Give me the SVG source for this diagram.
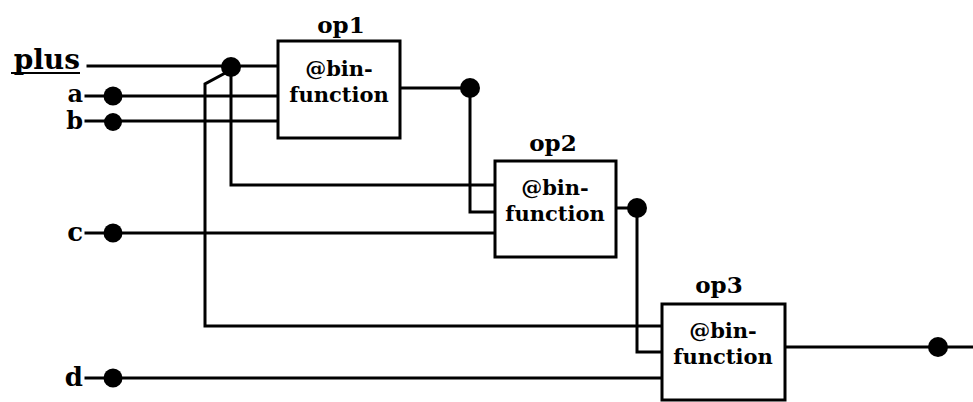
<svg xmlns="http://www.w3.org/2000/svg" width="973" height="402" viewBox="0 0 973 402">
<style>
.w{fill:none;stroke:#000;stroke-width:3;stroke-linejoin:miter;stroke-linecap:square}
.box{fill:#fff;stroke:#000;stroke-width:3}
.dot{fill:#000}
.t{font-family:"DejaVu Serif","Liberation Serif",serif;font-weight:bold;fill:#000}
.in{font-size:21px;text-anchor:middle}
.lb{font-size:23px;text-anchor:middle}
.var{font-size:26px;text-anchor:end}
.sm{font-size:24px}
</style>
<rect width="973" height="402" fill="#fff"/>
<g id="connectors">
<path class="w" d="M88 66 H278"/>
<path class="w" d="M86 96 H278"/>
<path class="w" d="M86 121 H278"/>
<path class="w" d="M86 233 H495"/>
<path class="w" d="M86 378 H662"/>
<path class="w" d="M231 67 V185 H495"/>
<path class="w" d="M229 71 L205 84 V326 H662"/>
<path class="w" d="M400 88 H470 V212 H495"/>
<path class="w" d="M616 208 H637 V352 H662"/>
<path class="w" d="M785 347 H973"/>
</g>
<g id="inputs">
<text class="t var" x="80" y="69" style="font-size:28px">plus</text>
<line x1="11" y1="73" x2="80" y2="73" stroke="#000" stroke-width="2"/>
<text class="t var sm" x="83" y="102">a</text>
<text class="t var sm" x="83" y="129">b</text>
<text class="t var" x="83" y="241">c</text>
<text class="t var" x="83" y="386">d</text>
<circle class="dot" cx="113" cy="96" r="9.5"/>
<circle class="dot" cx="113" cy="122" r="9"/>
<circle class="dot" cx="113" cy="233" r="9.5"/>
<circle class="dot" cx="113" cy="378" r="9.5"/>
<circle class="dot" cx="231" cy="67" r="10"/>
</g>
<g id="op1">
<text class="t lb" x="341" y="33">op1</text>
<rect class="box" x="278" y="41" width="122" height="97"/>
<text class="t in" x="339" y="76">@bin-</text>
<text class="t in" x="339" y="102">function</text>
<circle class="dot" cx="470" cy="88" r="10"/>
</g>
<g id="op2">
<text class="t lb" x="553" y="151">op2</text>
<rect class="box" x="495" y="161" width="121" height="96"/>
<text class="t in" x="555" y="195">@bin-</text>
<text class="t in" x="555" y="221">function</text>
<circle class="dot" cx="637" cy="208" r="10"/>
</g>
<g id="op3">
<text class="t lb" x="719" y="293">op3</text>
<rect class="box" x="662" y="304" width="123" height="96"/>
<text class="t in" x="723" y="338">@bin-</text>
<text class="t in" x="723" y="364">function</text>
<circle class="dot" cx="938" cy="347" r="10"/>
</g>
</svg>
